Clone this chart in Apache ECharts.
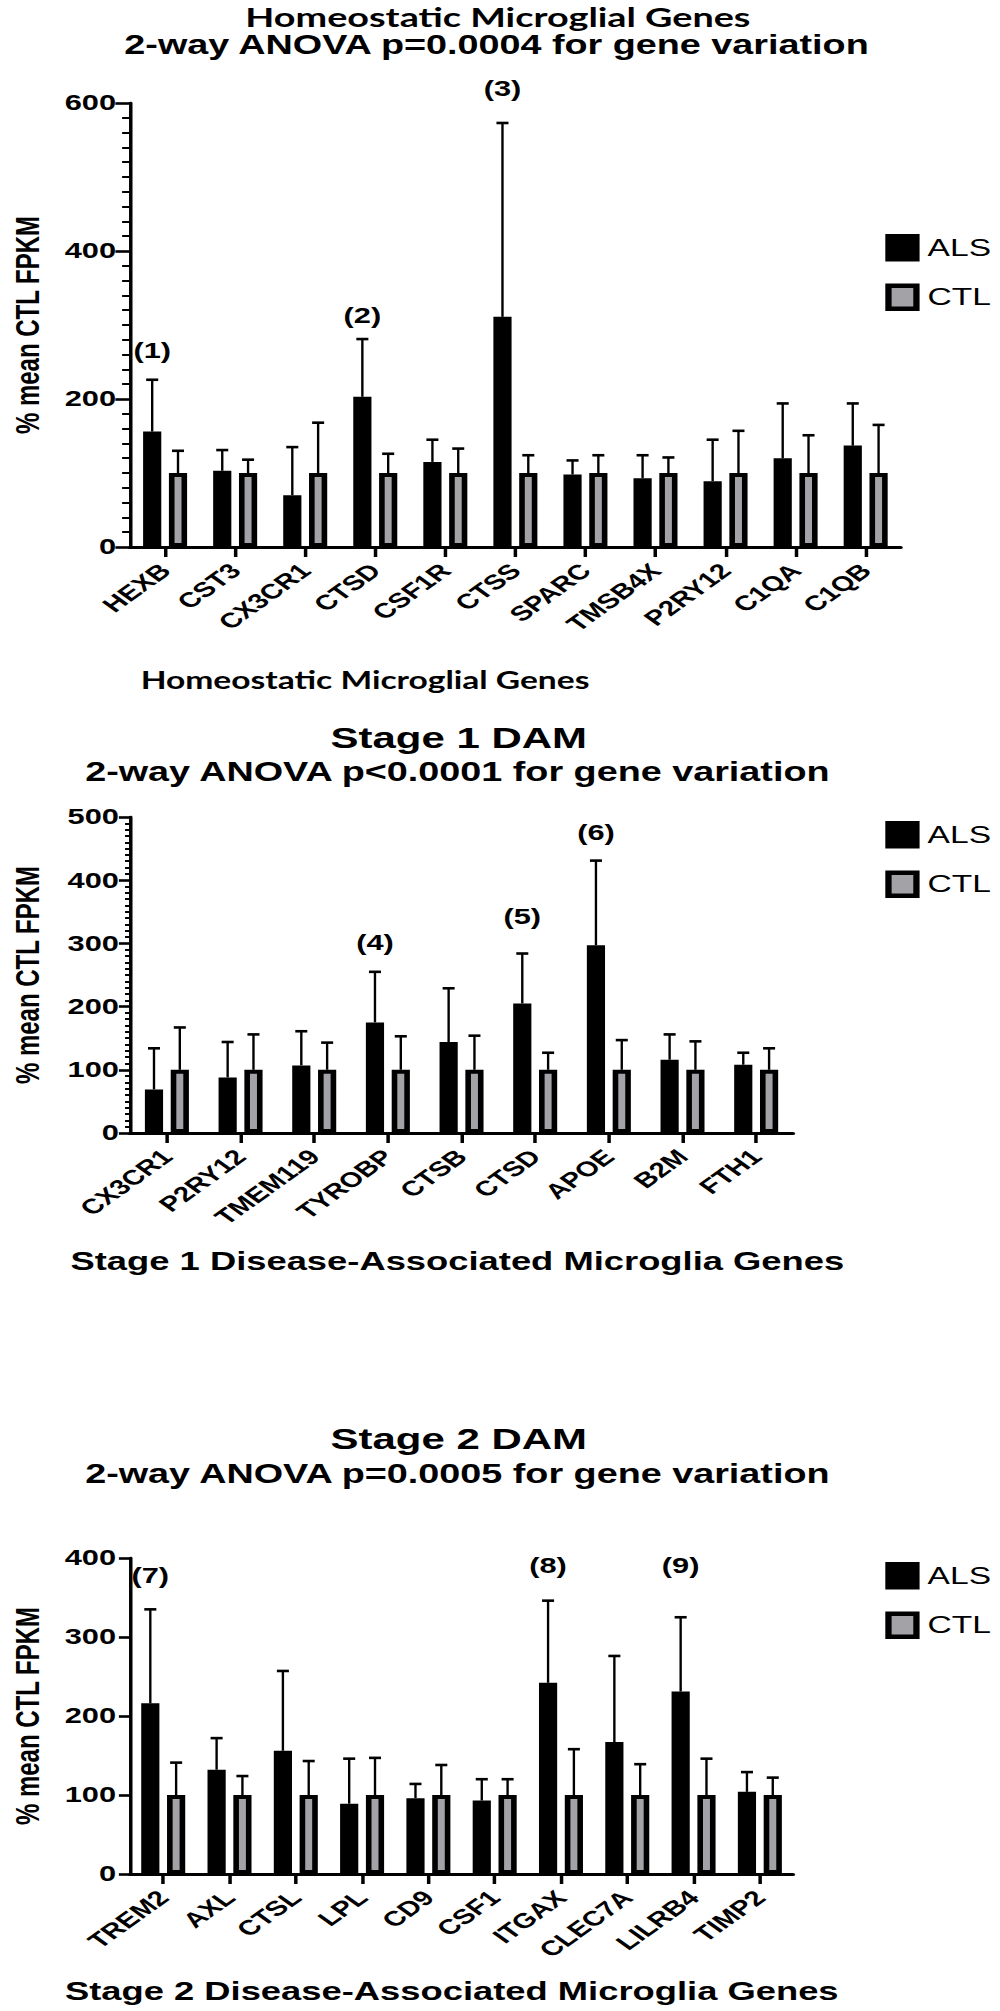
<!DOCTYPE html>
<html>
<head>
<meta charset="utf-8">
<script src="https://cdn.jsdelivr.net/npm/echarts@6/dist/echarts.min.js"></script>
<style>
html,body{margin:0;padding:0;background:#fff;}
#wrap{width:1000px;height:2011px;overflow:hidden;background:#fff;}
#c{width:715px;height:2011px;transform:scaleX(1.3986);transform-origin:0 0;}
</style>
</head>
<body>
<div id="wrap"><div id="c"></div></div>
<script>
// ---------------- data ----------------
const homeoGenes = ['HEXB','CST3','CX3CR1','CTSD','CSF1R','CTSS','SPARC','TMSB4X','P2RY12','C1QA','C1QB'];
const homeoALS   = [156,103,70,203,115,311,98,93,89,120,137];
const homeoALSsd = [70,28,65,78,30,262,19,31,56,74,57];
const homeoCTL   = [100,100,100,100,100,100,100,100,100,100,100];
const homeoCTLsd = [30,18,68,26,33,24,24,21,57,51,65];

const stage1Genes = ['CX3CR1','P2RY12','TMEM119','TYROBP','CTSB','CTSD','APOE','B2M','FTH1'];
const stage1ALS   = [69,88,107,175,144,205,297,116,108];
const stage1ALSsd = [65,56,54,80,85,79,134,40,19];
const stage1CTL   = [100,100,100,100,100,100,100,100,100];
const stage1CTLsd = [67,56,43,53,54,27,47,45,34];

const stage2Genes = ['TREM2','AXL','CTSL','LPL','CD9','CSF1','ITGAX','CLEC7A','LILRB4','TIMP2'];
const stage2ALS   = [216,132,156,89,96,93,242,167,231,104];
const stage2ALSsd = [119,40,101,57,18,27,104,109,94,25];
const stage2CTL   = [100,100,100,100,100,100,100,100,100,100];
const stage2CTLsd = [41,24,43,47,38,20,58,39,46,22];

const homeoMarks  = [['HEXB',266,'(1)'],['CTSD',313,'(2)'],['CTSS',620,'(3)']];
const stage1Marks = [['TYROBP',302,'(4)'],['CTSD',342,'(5)'],['APOE',476,'(6)']];
const stage2Marks = [['TREM2',378,'(7)'],['ITGAX',390,'(8)'],['LILRB4',390,'(9)']];

const yTicks1 = [0,600,200];
const yTicks2 = [0,500,100];
const yTicks3 = [0,400,100];

const titles = [
  ['Homeostatic Microglial Genes','2-way ANOVA p=0.0004 for gene variation','Homeostatic Microglial Genes'],
  ['Stage 1 DAM','2-way ANOVA p<0.0001 for gene variation','Stage 1 Disease-Associated Microglia Genes'],
  ['Stage 2 DAM','2-way ANOVA p=0.0005 for gene variation','Stage 2 Disease-Associated Microglia Genes']
];
const yName = '% mean CTL FPKM';
const seriesNames = ['ALS','CTL'];

// ---------------- styling ----------------
const F = "'Liberation Sans', Arial, Helvetica, sans-serif";
const FC = "Lato, 'Liberation Sans', sans-serif";
const GRAY = '#a2a2a7';
const BAR_W = 13;
const GAP_PCT = 0.42;
const OFF = (BAR_W + BAR_W * GAP_PCT) / 2;

const charts = [
  {genes: homeoGenes, als: homeoALS, alsSd: homeoALSsd, ctl: homeoCTL, ctlSd: homeoCTLsd, marks: homeoMarks, ticks: yTicks1,
   grid: {left: 88, right: 71, top: 103, height: 444}, minor: 10, tickLen: 10.5, minorLen: 5.7, labelMargin: 10, legendTop: 234},
  {genes: stage1Genes, als: stage1ALS, alsSd: stage1ALSsd, ctl: stage1CTL, ctlSd: stage1CTLsd, marks: stage1Marks, ticks: yTicks2,
   grid: {left: 87, right: 148, top: 817, height: 316}, minor: 10, tickLen: 8, minorLen: 3.6, labelMargin: 8, legendTop: 821},
  {genes: stage2Genes, als: stage2ALS, alsSd: stage2ALSsd, ctl: stage2CTL, ctlSd: stage2CTLsd, marks: stage2Marks, ticks: yTicks3,
   grid: {left: 88, right: 148, top: 1558, height: 316}, minor: 0, tickLen: 8, minorLen: 0, labelMargin: 10, legendTop: 1562}
];

function errRender(params, api) {
  const c = api.value(0), m = api.value(1), sd = api.value(2), side = api.value(3);
  const p0 = api.coord([c, m]);
  const p1 = api.coord([c, m + sd]);
  const x = p0[0] + side * OFF;
  return {
    type: 'group',
    children: [
      {type: 'line', shape: {x1: x, y1: p0[1], x2: x, y2: p1[1]}, style: {stroke: '#000', lineWidth: 1.7}},
      {type: 'line', shape: {x1: x - 4.3, y1: p1[1], x2: x + 4.3, y2: p1[1]}, style: {stroke: '#000', lineWidth: 2.6}}
    ]
  };
}

function markRenderFactory(marks) {
  return function (params, api) {
    const p = api.coord([api.value(0), api.value(1)]);
    return {
      type: 'text', x: p[0] - OFF, y: p[1],
      style: {text: marks[params.dataIndex][2], fill: '#000', fontSize: 22, fontWeight: 'bold', fontFamily: F,
              textAlign: 'center', textVerticalAlign: 'middle', align: 'center', verticalAlign: 'middle'}
    };
  };
}

const grid = [], xAxis = [], yAxis = [], series = [], legend = [];
charts.forEach((ch, g) => {
  grid.push(ch.grid);
  xAxis.push({
    gridIndex: g, type: 'category', data: ch.genes,
    axisLine: {show: true, lineStyle: {color: '#000', width: 3}},
    axisTick: {show: true, alignWithLabel: true, length: 10, lineStyle: {color: '#000', width: 2.5}},
    axisLabel: {rotate: 45, interval: 0, margin: 20, color: '#000', fontSize: 21, fontWeight: 'bold', fontFamily: F},
    splitLine: {show: false}
  });
  yAxis.push({
    gridIndex: g, type: 'value', min: ch.ticks[0], max: ch.ticks[1], interval: ch.ticks[2],
    axisLine: {show: true, lineStyle: {color: '#000', width: 2.5}},
    axisTick: {show: true, length: ch.tickLen, lineStyle: {color: '#000', width: 2.6}},
    minorTick: {show: ch.minor > 0, splitNumber: ch.minor || 5, length: ch.minorLen, lineStyle: {color: '#000', width: 2}},
    axisLabel: {margin: ch.labelMargin, color: '#000', fontSize: 22, fontWeight: 'bold', fontFamily: F},
    splitLine: {show: false},
    name: yName, nameLocation: 'middle', nameRotate: 90, nameGap: 61,
    nameTextStyle: {color: '#000', fontSize: 24, fontWeight: 'bold', fontFamily: F}
  });
  series.push({
    type: 'bar', name: seriesNames[0], xAxisIndex: g, yAxisIndex: g, data: ch.als,
    barWidth: BAR_W, barGap: (GAP_PCT * 100) + '%',
    itemStyle: {color: '#000', borderColor: '#000', borderWidth: 4}, z: 2
  });
  series.push({
    type: 'bar', name: seriesNames[1], xAxisIndex: g, yAxisIndex: g, data: ch.ctl,
    barWidth: BAR_W, barGap: (GAP_PCT * 100) + '%',
    itemStyle: {color: GRAY, borderColor: '#000', borderWidth: 4}, z: 2
  });
  const errData = [];
  ch.genes.forEach((gname, i) => {
    errData.push([i, ch.als[i], ch.alsSd[i], -1]);
    errData.push([i, ch.ctl[i], ch.ctlSd[i], 1]);
  });
  series.push({
    type: 'custom', name: 'err' + g, xAxisIndex: g, yAxisIndex: g, data: errData,
    encode: {x: 0, y: 1}, renderItem: errRender, z: 3, silent: true
  });
  series.push({
    type: 'custom', name: 'mark' + g, xAxisIndex: g, yAxisIndex: g,
    data: ch.marks.map(m => [ch.genes.indexOf(m[0]), m[1]]),
    encode: {x: 0, y: 1}, renderItem: markRenderFactory(ch.marks), z: 4, silent: true
  });
  legend.push({
    data: seriesNames, orient: 'vertical', left: 633, top: ch.legendTop, padding: 0,
    itemWidth: 20, itemHeight: 23, itemGap: 22, icon: 'rect', selectedMode: false,
    itemStyle: {borderColor: '#000', borderWidth: 4.5},
    textStyle: {color: '#000', fontSize: 24, fontFamily: F, padding: [0, 0, 0, 3]}
  });
});

function txt(x, y, text, size, family) {
  return {type: 'text', x: x, y: y, silent: true,
    style: {text: text, fill: '#000', fontSize: size, fontWeight: 'bold', fontFamily: family,
            textAlign: 'center', textVerticalAlign: 'middle', align: 'center', verticalAlign: 'middle'}};
}

const graphic = [
  txt(356, 17, titles[0][0], 27, FC),
  txt(355, 45, titles[0][1], 27, F),
  txt(261, 680, titles[0][2], 24, FC),
  txt(328, 738, titles[1][0], 30, F),
  txt(327, 772, titles[1][1], 27, F),
  txt(327, 1261, titles[1][2], 26, F),
  txt(328, 1439, titles[2][0], 30, F),
  txt(327, 1474, titles[2][1], 27, F),
  txt(323, 1991, titles[2][2], 26, F)
];

const chart = echarts.init(document.getElementById('c'), null, {renderer: 'svg'});
chart.setOption({animation: false, backgroundColor: '#fff', grid, xAxis, yAxis, series, legend, graphic});
</script>
</body>
</html>
